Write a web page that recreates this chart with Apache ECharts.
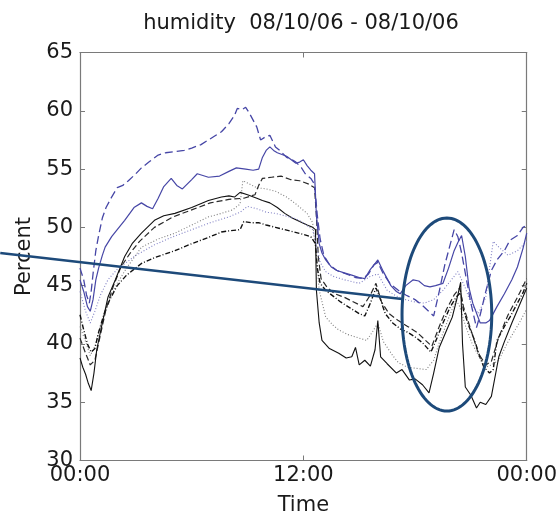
<!DOCTYPE html>
<html>
<head>
<meta charset="utf-8">
<script src="https://cdn.jsdelivr.net/npm/echarts@6/dist/echarts.min.js"></script>
<style>
html,body{margin:0;padding:0;background:#fff;}
#chart{width:560px;height:523px;}
</style>
</head>
<body>
<div id="chart"></div>
<script>
// ---- data (hour of day, percent) ----
const titleText = 'humidity  08/10/06 - 08/10/06';
const xTickLabels = ['00:00', '12:00', '00:00'];
const yTicks = [30, 35, 40, 45, 50, 55, 60, 65];

const blueDashed = [[0,46.5],[0.2,45.5],[0.35,44.2],[0.5,43.5],[0.6,44.5],[0.7,46],[0.85,48],[1.0,49.3],[1.2,50.8],[1.4,51.7],[1.7,52.6],[2.0,53.4],[2.3,53.6],[2.6,54.0],[3.0,54.6],[3.3,55.1],[3.7,55.6],[4.2,56.2],[4.6,56.4],[5.1,56.5],[5.6,56.6],[6.0,56.8],[6.5,57.1],[6.9,57.5],[7.3,57.9],[7.6,58.2],[8.0,58.9],[8.3,59.6],[8.45,60.2],[8.7,60.1],[8.9,60.3],[9.1,59.8],[9.3,59.2],[9.5,58.6],[9.7,57.5],[9.9,57.7],[10.2,57.9],[10.5,56.9],[10.8,56.5],[11.1,56.0],[11.4,55.8],[11.6,55.6],[11.9,55.1],[12.1,54.6],[12.4,54.2],[12.6,53.7],[12.75,51],[12.9,49],[13.1,47.6],[13.4,46.8],[13.8,46.3],[14.3,46.0],[14.8,45.7],[15.2,45.6],[15.5,46.0],[15.8,46.8],[16.0,47.0],[16.3,46.0],[16.7,45.1],[17.1,44.6],[17.5,44.2],[18.0,43.8],[18.4,43.3],[18.8,42.7],[19.0,42.4],[19.3,44.5],[19.6,46.8],[19.9,48.6],[20.1,49.8],[20.3,49.2],[20.5,47.8],[20.8,45.2],[21.0,43.5],[21.3,41.4],[21.5,42.5],[21.8,44.5],[22.1,46.3],[22.4,47.2],[22.8,48.0],[23.1,48.9],[23.5,49.3],[23.8,50.0],[24,50.2]];

const blueSolid = [[0,45.5],[0.2,44.5],[0.4,43.2],[0.55,42.8],[0.7,43.8],[0.85,45.5],[1.0,46.5],[1.2,47.6],[1.35,48.3],[1.7,49.2],[2.0,49.8],[2.4,50.6],[2.9,51.7],[3.3,52.1],[3.6,51.8],[3.9,51.6],[4.2,52.5],[4.5,53.5],[4.9,54.2],[5.2,53.6],[5.5,53.3],[6.0,54.1],[6.3,54.6],[6.9,54.3],[7.5,54.4],[8.0,54.8],[8.4,55.1],[8.9,55.0],[9.3,54.9],[9.6,55.0],[9.8,56.0],[10.0,56.6],[10.2,56.9],[10.4,56.6],[10.6,56.4],[11.1,56.1],[11.6,55.5],[11.8,55.6],[12.0,55.8],[12.2,55.3],[12.4,54.9],[12.6,54.6],[12.7,51.0],[12.85,48.6],[13.0,47.8],[13.2,47.2],[13.5,46.6],[13.8,46.3],[14.2,46.1],[14.6,45.9],[15.0,45.7],[15.3,45.6],[15.6,46.4],[15.9,47.0],[16.0,47.2],[16.3,46.2],[16.7,45.0],[17.0,44.5],[17.2,44.3],[17.5,45.0],[17.9,45.5],[18.2,45.4],[18.5,45.0],[18.8,44.9],[19.1,45.0],[19.5,45.2],[19.8,46.5],[20.1,48.0],[20.3,48.7],[20.5,49.3],[20.7,47.5],[20.9,44.8],[21.1,43.5],[21.5,41.8],[21.8,41.8],[22.0,42.0],[22.4,43.2],[22.8,44.3],[23.2,45.5],[23.5,46.6],[23.8,48.2],[24,49.5]];

const blueDotted = [[0,44.5],[0.3,42.8],[0.55,41.8],[0.8,42.8],[1.1,44.2],[1.5,45.5],[2.0,46.4],[2.5,47.0],[3.0,47.6],[4.0,48.5],[5.0,49.2],[6.0,49.8],[7.0,50.4],[8.0,50.9],[8.6,51.3],[9.0,51.8],[9.5,51.6],[10.0,51.3],[10.5,51.2],[11.0,51.0],[11.5,50.8],[12.0,50.4],[12.5,49.8],[12.7,48.5],[12.9,47.0],[13.2,46.2],[13.6,45.8],[14.2,45.5],[15.0,45.2],[15.6,45.8],[16.0,46.0],[16.5,44.6],[17.0,44.1],[17.5,43.8],[18.0,43.6],[18.5,43.5],[19.0,43.8],[19.5,44.6],[20.0,45.6],[20.3,46.2],[20.7,44.8],[21.0,43.5],[21.4,42.6],[21.8,44.0],[22.0,46.5],[22.2,48.8],[22.5,48.3],[23.0,47.6],[23.5,48.0],[24,48.8]];

const blackSolid = [[0,38.8],[0.15,38.0],[0.3,37.4],[0.45,36.6],[0.6,36.0],[0.75,37.5],[0.9,39.5],[1.2,41.8],[1.5,44.0],[1.9,45.5],[2.4,47.5],[2.8,48.6],[3.3,49.5],[4.0,50.6],[4.5,51.0],[5.1,51.2],[6.0,51.7],[6.9,52.3],[7.6,52.6],[8.0,52.7],[8.3,52.6],[8.6,53.0],[9.0,52.8],[9.5,52.5],[9.8,52.3],[10.2,52.1],[10.6,51.7],[11.0,51.2],[11.4,50.8],[11.8,50.5],[12.2,50.2],[12.5,50.0],[12.65,49.8],[12.7,44.6],[12.85,41.8],[13.0,40.3],[13.4,39.6],[13.9,39.2],[14.3,38.8],[14.6,38.9],[14.8,39.7],[15.0,38.2],[15.3,38.6],[15.6,38.1],[15.85,39.5],[16.0,42.0],[16.15,38.9],[16.5,38.3],[17.0,37.5],[17.3,37.8],[17.7,36.9],[18.0,37.0],[18.4,36.5],[18.75,35.8],[19.0,37.5],[19.3,39.7],[19.7,41.2],[20.0,42.3],[20.3,44.2],[20.45,45.3],[20.55,40.0],[20.7,36.3],[21.0,35.6],[21.3,34.5],[21.5,35.0],[21.8,34.8],[22.1,35.5],[22.5,38.9],[22.8,40.2],[23.2,41.8],[23.6,43.3],[24,44.8]];

const blackDashed = [[0,40.5],[0.3,39.2],[0.55,38.2],[0.8,38.6],[1.1,40.8],[1.4,43.0],[1.8,45.0],[2.2,46.6],[2.7,47.8],[3.2,48.8],[4.0,50.0],[5.0,50.9],[6.0,51.5],[7.0,52.1],[8.0,52.4],[8.8,52.5],[9.4,52.8],[9.6,53.6],[9.8,54.2],[10.3,54.3],[10.8,54.4],[11.3,54.1],[11.8,54.0],[12.3,53.7],[12.6,53.4],[12.7,51.0],[12.8,47.5],[12.95,45.6],[13.3,44.8],[13.7,44.3],[14.2,44.0],[14.7,43.6],[15.2,43.2],[15.6,44.2],[15.9,45.2],[16.2,43.6],[16.6,42.6],[17.1,42.0],[17.6,41.5],[18.1,41.0],[18.5,40.4],[18.9,39.8],[19.3,41.5],[19.7,43.0],[20.1,44.2],[20.4,44.8],[20.6,43.2],[21.0,41.2],[21.4,39.2],[21.8,38.2],[22.1,38.5],[22.5,40.6],[23.0,42.5],[23.5,44.0],[24,45.6]];

const blackDotted = [[0,41.5],[0.3,40.2],[0.55,39.0],[0.8,39.8],[1.1,41.5],[1.5,43.5],[2.0,45.2],[2.5,46.5],[3.3,48.3],[4.2,49.0],[5.1,49.5],[6.0,50.2],[6.9,50.9],[7.6,51.2],[8.2,51.5],[8.6,52.0],[8.75,54.0],[9.0,53.8],[9.5,53.4],[10.0,53.3],[10.5,53.1],[11.1,52.6],[11.6,52.0],[12.2,51.2],[12.5,50.4],[12.7,47.5],[12.85,44.6],[13.2,42.3],[13.6,41.6],[13.9,41.2],[14.4,40.8],[15.0,40.5],[15.4,40.3],[15.7,41.0],[16.0,41.8],[16.3,40.2],[16.8,39.0],[17.1,38.4],[17.6,38.0],[18.1,37.9],[18.6,37.8],[19.0,38.6],[19.3,40.1],[19.8,42.2],[20.2,43.8],[20.4,43.2],[20.7,41.6],[21.05,40.1],[21.4,39.0],[21.8,38.0],[22.1,38.2],[22.5,38.6],[23.0,40.2],[23.6,41.8],[24,43.0]];

const blackDashDot = [[0,42.5],[0.2,41.2],[0.4,40.0],[0.6,39.3],[0.8,39.6],[1.0,41.0],[1.3,42.6],[1.6,43.8],[2.0,45.0],[2.5,45.9],[3.3,46.9],[4.0,47.4],[5.1,48.0],[6.0,48.6],[7.0,49.2],[7.6,49.6],[8.0,49.7],[8.6,49.8],[8.8,50.5],[9.2,50.4],[9.6,50.4],[10.0,50.2],[10.5,50.0],[11.0,49.8],[11.5,49.6],[12.0,49.4],[12.4,49.2],[12.65,48.6],[12.75,46.5],[12.9,45.2],[13.2,44.6],[13.6,44.1],[14.0,43.6],[14.5,43.1],[15.0,42.6],[15.3,42.4],[15.6,43.5],[15.9,44.8],[16.1,44.0],[16.4,42.6],[16.8,41.8],[17.2,41.3],[17.6,41.0],[18.0,40.6],[18.4,40.1],[18.85,39.3],[19.1,40.2],[19.5,41.8],[19.9,43.2],[20.2,44.0],[20.45,44.4],[20.6,42.9],[20.9,41.5],[21.2,40.3],[21.5,38.8],[21.7,38.0],[22.0,37.5],[22.2,37.8],[22.4,40.3],[22.8,41.5],[23.1,42.3],[23.5,43.5],[23.8,44.4],[24,45.2]];

// annotation (data units: hour, percent)
const annotLineFrom = [-4.285, 47.8];
const annotLineTo = [17.3, 43.85];
const annotEllipseCenter = [19.71, 42.52];
const annotEllipseRadius = [2.41, 8.28];

// ---- chart ----
const FONT = 'DejaVu Sans';
const AXIS_COLOR = '#7a7a7a';
const TEXT_COLOR = '#1a1a1a';
const BLUE = '#4646a6';
const chart = echarts.init(document.getElementById('chart'), null, {renderer: 'canvas'});

function mkSeries(name, data, color, type, width) {
  return {
    name: name, type: 'line', data: data, showSymbol: false, symbol: 'none',
    smooth: false, animation: false, silent: true,
    lineStyle: {color: color, width: width, type: type}
  };
}

const baseAxis = {
  axisLine: {show: true, onZero: false, lineStyle: {color: AXIS_COLOR, width: 1.2}},
  axisTick: {show: true, inside: true, length: 5, lineStyle: {color: AXIS_COLOR, width: 1}},
  splitLine: {show: false}
};

const option = {
  animation: false,
  backgroundColor: '#ffffff',
  title: {
    text: titleText, left: 296, top: 8, textAlign: 'center',
    textStyle: {fontFamily: FONT, fontSize: 21, fontWeight: 'normal', color: TEXT_COLOR}
  },
  grid: {left: 80, right: 32, top: 52.5, bottom: 62.5, containLabel: false},
  xAxis: [
    Object.assign({}, baseAxis, {
      type: 'value', position: 'bottom', min: 0, max: 24, interval: 12,
      name: 'Time', nameLocation: 'middle', nameGap: 35,
      nameTextStyle: {fontFamily: FONT, fontSize: 21, color: TEXT_COLOR},
      axisLabel: {
        show: true, margin: 5, fontFamily: FONT, fontSize: 21, color: TEXT_COLOR,
        formatter: function (v) { return xTickLabels[Math.round(v / 12)]; }
      }
    }),
    Object.assign({}, baseAxis, {
      type: 'value', position: 'top', min: 0, max: 24, interval: 12,
      axisLabel: {show: false}
    })
  ],
  yAxis: [
    Object.assign({}, baseAxis, {
      type: 'value', position: 'left', min: yTicks[0], max: yTicks[yTicks.length - 1], interval: 5,
      name: 'Percent', nameLocation: 'middle', nameGap: 43,
      nameTextStyle: {fontFamily: FONT, fontSize: 21, color: TEXT_COLOR},
      axisLabel: {show: true, margin: 7, fontFamily: FONT, fontSize: 21, color: TEXT_COLOR}
    }),
    Object.assign({}, baseAxis, {
      type: 'value', position: 'right', min: yTicks[0], max: yTicks[yTicks.length - 1], interval: 5,
      axisLabel: {show: false}
    })
  ],
  series: [
    mkSeries('blackDotted', blackDotted, '#7d7d7d', [1, 2], 1.1),
    mkSeries('blackDashDot', blackDashDot, '#111111', [5, 2, 1, 2], 1.4),
    mkSeries('blackDashed', blackDashed, '#2a2a2a', [6, 3], 1.2),
    mkSeries('blackSolid', blackSolid, '#111111', 'solid', 1.1),
    mkSeries('blueDotted', blueDotted, '#7f7fc4', [1, 2], 1.1),
    mkSeries('blueSolid', blueSolid, BLUE, 'solid', 1.2),
    mkSeries('blueDashed', blueDashed, BLUE, [8, 4], 1.3)
  ]
};
chart.setOption(option);

// annotation overlay, positioned through the axes
function px(p) { return chart.convertToPixel({xAxisIndex: 0, yAxisIndex: 0}, p); }
const a = px(annotLineFrom), b = px(annotLineTo);
const c = px(annotEllipseCenter);
const e1 = px([annotEllipseCenter[0] + annotEllipseRadius[0], annotEllipseCenter[1] + annotEllipseRadius[1]]);
const rx = Math.abs(e1[0] - c[0]), ry = Math.abs(e1[1] - c[1]);
const pts = [];
for (let i = 0; i < 120; i++) {
  const t = i / 120 * Math.PI * 2;
  pts.push([c[0] + rx * Math.cos(t), c[1] + ry * Math.sin(t)]);
}
chart.setOption({
  graphic: [
    {type: 'line', shape: {x1: a[0], y1: a[1], x2: b[0], y2: b[1]},
     style: {stroke: '#1d4a7a', lineWidth: 2.6}, z: 100},
    {type: 'polygon', shape: {points: pts},
     style: {stroke: '#1d4a7a', lineWidth: 3, fill: null}, z: 100}
  ]
});
</script>
</body>
</html>
